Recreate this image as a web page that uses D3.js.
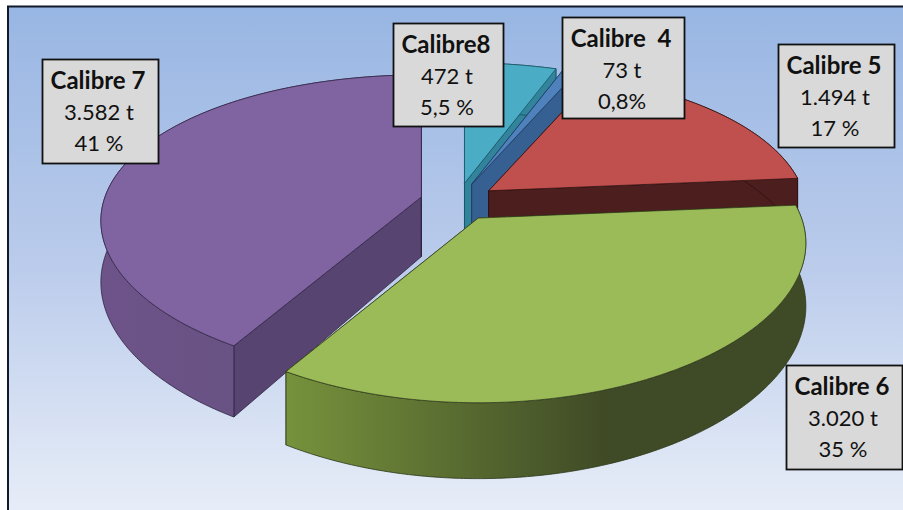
<!DOCTYPE html>
<html>
<head>
<meta charset="utf-8">
<script src="https://cdnjs.cloudflare.com/ajax/libs/d3/7.8.5/d3.min.js"></script>
<style>
html,body{margin:0;padding:0;background:#fff}
svg{display:block}
text{font-family:Lato,"Open Sans",sans-serif;fill:#111;white-space:pre}
</style>
</head>
<body>
<svg id="c" width="903" height="510"></svg>
<script>
// Data, in drawing order clockwise from 12 o'clock
const categories = ["Calibre8", "Calibre  4", "Calibre 5", "Calibre 6", "Calibre 7"];
const tonnes = [472, 73, 1494, 3020, 3582];
const tonneLabels = ["472 t", "73 t", "1.494 t", "3.020 t", "3.582 t"];
const shareLabels = ["5,5 %", "0,8%", "17 %", "35 %", "41 %"];

// Styling
const topColors = ["#4bacc6", "#4f81bd", "#c0504d", "#9bbb59", "#8063a1"];
const cutColors = ["#31849b", "#376092", "#4d1e1e", "#76923c", "#574470"];
const wallFrom = ["#31849b", "#376092", "#4d1e1e", "#76923c", "#6d5389"];
const wallTo = ["#31849b", "#376092", "#4d1e1e", "#3f4a26", "#62507c"];
const edgeColors = ["#17505f", "#1e3a5c", "#2a0f0f", "#2c3518", "#2f2340"];
const paintOrder = [0, 1, 2, 4, 3];
const boxes = [[393, 23, 110, 103], [562, 17, 122, 101], [778, 44, 116, 103], [786, 365, 116, 104], [42, 59, 116, 104]];

// Perspective layout
const cx = 458, cy = 202, rx = 318, ry = 146, kx = 0.16, ky = 0.19, explodeX = 38, explodeY = 19, explodeW = 0.12, depth = 60;

const svg = d3.select("#c");
const defs = svg.append("defs");
const bg = defs.append("linearGradient").attr("id", "bg").attr("x1", 0).attr("y1", 0).attr("x2", 0).attr("y2", 1);
bg.append("stop").attr("offset", 0).attr("stop-color", "#98b6e3");
bg.append("stop").attr("offset", 0.5).attr("stop-color", "#bacbeb");
bg.append("stop").attr("offset", 1).attr("stop-color", "#e8eef8");

svg.append("rect").attr("x", 8).attr("y", 6.5).attr("width", 900).attr("height", 510)
  .attr("fill", "url(#bg)").attr("stroke", "#111a2a").attr("stroke-width", 2);

const arcs = d3.pie().sort(null).startAngle(0).endAngle(2 * Math.PI)(tonnes);
const line = d3.line().curve(d3.curveLinear);

paintOrder.forEach(i => {
  const a = arcs[i];
  const mid = (a.startAngle + a.endAngle) / 2;
  const ax = cx + explodeX * Math.sin(mid), ay = cy - explodeY * Math.cos(mid);
  const oy = -explodeW * Math.cos(mid);
  const rim = (t, z) => {
    const Y = -Math.cos(t) + oy;
    return [ax + rx * Math.sin(t) / (1 - kx * Y), ay - ry * Math.cos(t) / (1 - ky * Y) + z / (1 - ky * Y)];
  };
  const apex = z => [ax, ay + z / (1 - ky * oy)];
  const n = Math.max(2, Math.ceil((a.endAngle - a.startAngle) * 90));
  const angles = d3.range(n + 1).map(j => a.startAngle + (a.endAngle - a.startAngle) * j / n);
  const g = svg.append("g");

  const xs = angles.map(t => rim(t, 0)[0]);
  const grad = defs.append("linearGradient").attr("id", "w" + i).attr("gradientUnits", "userSpaceOnUse")
    .attr("x1", d3.min(xs)).attr("y1", 0).attr("x2", d3.max(xs)).attr("y2", 0);
  grad.append("stop").attr("offset", 0).attr("stop-color", wallFrom[i]);
  grad.append("stop").attr("offset", i === 3 ? 0.62 : 1).attr("stop-color", wallTo[i]);

  [a.startAngle, a.endAngle].forEach(t => {
    g.append("path")
      .attr("d", line([apex(0), rim(t, 0), rim(t, depth), apex(depth)]) + "Z")
      .attr("fill", cutColors[i]).attr("stroke", edgeColors[i]).attr("stroke-width", 0.8);
  });
  g.append("path")
    .attr("d", line(angles.map(t => rim(t, 0)).concat(angles.slice().reverse().map(t => rim(t, depth)))) + "Z")
    .attr("fill", "url(#w" + i + ")").attr("stroke", edgeColors[i]).attr("stroke-width", 0.8);
  g.append("path")
    .attr("d", line([apex(0)].concat(angles.map(t => rim(t, 0)))) + "Z")
    .attr("fill", topColors[i]).attr("stroke", edgeColors[i]).attr("stroke-width", 0.7);
});

categories.forEach((name, i) => {
  const [x, y, w, h] = boxes[i];
  const g = svg.append("g").attr("transform", `translate(${x},${y})`);
  g.append("rect").attr("x", 0.5).attr("y", 0.5).attr("width", w).attr("height", h)
    .attr("fill", "#d9d9d9").attr("stroke", "#111").attr("stroke-width", 1.8);
  const tx = w / 2 - 1;
  g.append("text").attr("x", tx - 1).attr("y", 30).attr("text-anchor", "middle")
    .attr("font-size", 24).attr("font-weight", 700).text(name);
  g.append("text").attr("x", tx).attr("y", 61).attr("text-anchor", "middle")
    .attr("font-size", 22).text(tonneLabels[i]);
  g.append("text").attr("x", tx).attr("y", 92).attr("text-anchor", "middle")
    .attr("font-size", 22).text(shareLabels[i]);
});
</script>
</body>
</html>
